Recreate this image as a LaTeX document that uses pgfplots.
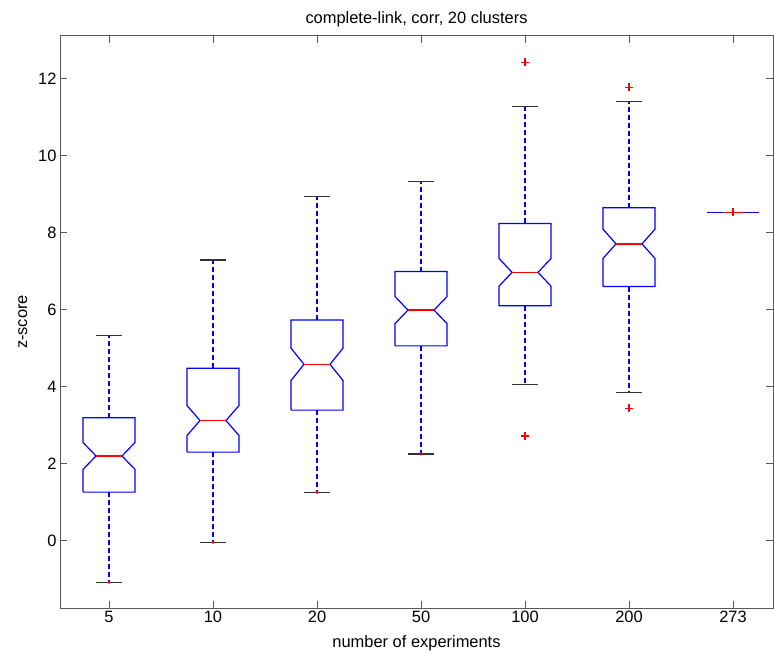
\documentclass[border=0pt]{standalone}
\usepackage{fontspec}
\setmainfont{Liberation Sans}
\usepackage{pgfplots}
\pgfplotsset{compat=1.18}
\definecolor{mblue}{rgb}{0,0,1}
\definecolor{mred}{rgb}{1,0,0}
\begin{document}
\begin{tikzpicture}
\useasboundingbox (-60bp,-50bp) rectangle (714bp,608bp);
\begin{axis}[
  at={(0,0)}, anchor=south west,
  scale only axis, width=713bp, height=572bp,
  xmin=0.528846, xmax=7.384615, ymin=-1.75, ymax=13.11,
  xtick={1,2,3,4,5,6,7},
  xticklabels={5,10,20,50,100,200,273},
  ytick={0,2,4,6,8,10,12},
  minor tick num=0,
  xtick pos=both, ytick pos=both,
  tick align=inside, major tick length=7bp,
  axis line style={black!65, line width=1bp},
  tick style={black!65, line width=1bp},
  /pgf/number format/assume math mode=true,
  tick label style={font=\fontsize{16.5}{19}\selectfont},
  label style={font=\fontsize{16.5}{19}\selectfont},
  title style={font=\fontsize{16.5}{19}\selectfont},
  xlabel={number of experiments},
  ylabel={z-score},
  title={complete-link, corr, 20 clusters},
  xlabel shift=6bp,
  ylabel shift=4bp,
  clip=false,
]
% --- whiskers (blue dashed)
\addplot[draw=mblue, line width=1.2bp, dash pattern=on 5bp off 3bp] coordinates {(1,3.19) (1,5.32)};
\addplot[draw=mblue, line width=1.2bp, dash pattern=on 5bp off 3bp] coordinates {(1,1.26) (1,-1.08)};
\addplot[draw=mblue, line width=1.2bp, dash pattern=on 5bp off 3bp] coordinates {(2,4.48) (2,7.29)};
\addplot[draw=mblue, line width=1.2bp, dash pattern=on 5bp off 3bp] coordinates {(2,2.30) (2,-0.04)};
\addplot[draw=mblue, line width=1.2bp, dash pattern=on 5bp off 3bp] coordinates {(3,5.73) (3,8.95)};
\addplot[draw=mblue, line width=1.2bp, dash pattern=on 5bp off 3bp] coordinates {(3,3.39) (3,1.26)};
\addplot[draw=mblue, line width=1.2bp, dash pattern=on 5bp off 3bp] coordinates {(4,6.99) (4,9.32)};
\addplot[draw=mblue, line width=1.2bp, dash pattern=on 5bp off 3bp] coordinates {(4,5.06) (4,2.25)};
\addplot[draw=mblue, line width=1.2bp, dash pattern=on 5bp off 3bp] coordinates {(5,8.24) (5,11.29)};
\addplot[draw=mblue, line width=1.2bp, dash pattern=on 5bp off 3bp] coordinates {(5,6.10) (5,4.06)};
\addplot[draw=mblue, line width=1.2bp, dash pattern=on 5bp off 3bp] coordinates {(6,8.65) (6,11.40)};
\addplot[draw=mblue, line width=1.2bp, dash pattern=on 5bp off 3bp] coordinates {(6,6.60) (6,3.85)};
% --- notched boxes (blue)
\addplot[draw=mblue, line width=1.2bp] coordinates {(0.75,1.26) (0.75,1.85) (0.875,2.20) (0.75,2.55) (0.75,3.19) (1.25,3.19) (1.25,2.55) (1.125,2.20) (1.25,1.85) (1.25,1.26) (0.75,1.26)};
\addplot[draw=mblue, line width=1.2bp] coordinates {(1.75,2.30) (1.75,2.73) (1.875,3.12) (1.75,3.51) (1.75,4.48) (2.25,4.48) (2.25,3.51) (2.125,3.12) (2.25,2.73) (2.25,2.30) (1.75,2.30)};
\addplot[draw=mblue, line width=1.2bp] coordinates {(2.75,3.39) (2.75,4.16) (2.875,4.58) (2.75,5.00) (2.75,5.73) (3.25,5.73) (3.25,5.00) (3.125,4.58) (3.25,4.16) (3.25,3.39) (2.75,3.39)};
\addplot[draw=mblue, line width=1.2bp] coordinates {(3.75,5.06) (3.75,5.64) (3.875,5.99) (3.75,6.34) (3.75,6.99) (4.25,6.99) (4.25,6.34) (4.125,5.99) (4.25,5.64) (4.25,5.06) (3.75,5.06)};
\addplot[draw=mblue, line width=1.2bp] coordinates {(4.75,6.10) (4.75,6.61) (4.875,6.97) (4.75,7.33) (4.75,8.24) (5.25,8.24) (5.25,7.33) (5.125,6.97) (5.25,6.61) (5.25,6.10) (4.75,6.10)};
\addplot[draw=mblue, line width=1.2bp] coordinates {(5.75,6.60) (5.75,7.33) (5.875,7.71) (5.75,8.09) (5.75,8.65) (6.25,8.65) (6.25,8.09) (6.125,7.71) (6.25,7.33) (6.25,6.60) (5.75,6.60)};
\addplot[draw=mblue, line width=1.2bp] coordinates {(6.75,8.53) (7.25,8.53)};
% --- whisker caps (black)
\addplot[black!80, line width=1.1bp] coordinates {(0.875,5.32) (1.125,5.32)};
\addplot[black!80, line width=1.1bp] coordinates {(0.875,-1.08) (1.125,-1.08)};
\addplot[black!80, line width=1.1bp] coordinates {(1.875,7.29) (2.125,7.29)};
\addplot[black!80, line width=1.1bp] coordinates {(1.875,-0.04) (2.125,-0.04)};
\addplot[black!80, line width=1.1bp] coordinates {(2.875,8.95) (3.125,8.95)};
\addplot[black!80, line width=1.1bp] coordinates {(2.875,1.26) (3.125,1.26)};
\addplot[black!80, line width=1.1bp] coordinates {(3.875,9.32) (4.125,9.32)};
\addplot[black!80, line width=1.1bp] coordinates {(3.875,2.25) (4.125,2.25)};
\addplot[black!80, line width=1.1bp] coordinates {(4.875,11.29) (5.125,11.29)};
\addplot[black!80, line width=1.1bp] coordinates {(4.875,4.06) (5.125,4.06)};
\addplot[black!80, line width=1.1bp] coordinates {(5.875,11.40) (6.125,11.40)};
\addplot[black!80, line width=1.1bp] coordinates {(5.875,3.85) (6.125,3.85)};
% --- medians (red)
\addplot[mred, line width=1.3bp] coordinates {(0.875,2.20) (1.125,2.20)};
\addplot[mred, line width=1.3bp] coordinates {(1.875,3.12) (2.125,3.12)};
\addplot[mred, line width=1.3bp] coordinates {(2.875,4.58) (3.125,4.58)};
\addplot[mred, line width=1.3bp] coordinates {(3.875,5.99) (4.125,5.99)};
\addplot[mred, line width=1.3bp] coordinates {(4.875,6.97) (5.125,6.97)};
\addplot[mred, line width=1.3bp] coordinates {(5.875,7.71) (6.125,7.71)};
\addplot[mred, line width=1.3bp] coordinates {(6.9,8.53) (7.1,8.53)};
% --- outliers (red +)
\addplot[only marks, mark=+, mark size=4bp, mred, line width=1.2bp] coordinates {(5,12.43) (5,2.72) (6,11.78) (6,3.44) (7,8.53)};
\addplot[only marks, mark=*, mark size=1.4bp, mred] coordinates {(1,-1.08) (2,-0.04) (3,1.26) (4,2.25)};
\end{axis}
\end{tikzpicture}
\end{document}
